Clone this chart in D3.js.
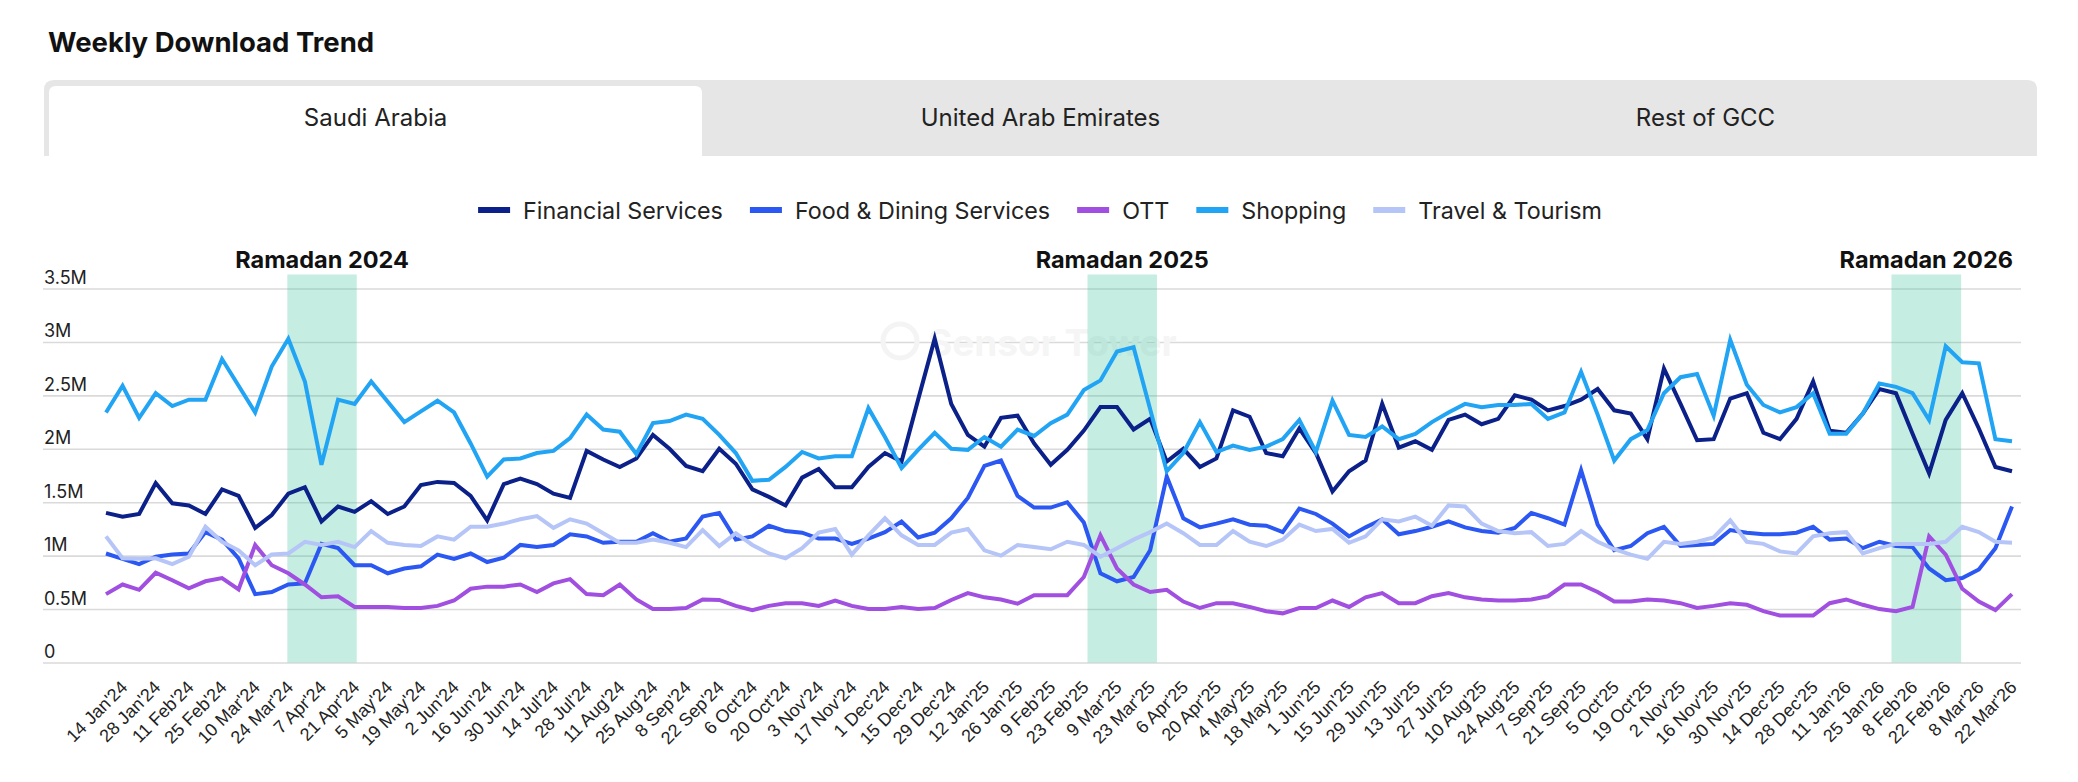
<!DOCTYPE html>
<html>
<head>
<meta charset="utf-8">
<script src="https://cdn.jsdelivr.net/npm/d3@7"></script>
<style>
body { margin: 0; background: #fff; }
svg { display: block; font-family: Inter, "Noto Sans", sans-serif; }
</style>
</head>
<body>
<svg></svg>
<script>
// =============================================== DATA =============================================
// one label every second week, first week = 14 Jan'24, last data week = 29 Mar'26
const xTickLabels = ["14 Jan'24","28 Jan'24","11 Feb'24","25 Feb'24","10 Mar'24","24 Mar'24","7 Apr'24","21 Apr'24",
  "5 May'24","19 May'24","2 Jun'24","16 Jun'24","30 Jun'24","14 Jul'24","28 Jul'24","11 Aug'24","25 Aug'24",
  "8 Sep'24","22 Sep'24","6 Oct'24","20 Oct'24","3 Nov'24","17 Nov'24","1 Dec'24","15 Dec'24","29 Dec'24",
  "12 Jan'25","26 Jan'25","9 Feb'25","23 Feb'25","9 Mar'25","23 Mar'25","6 Apr'25","20 Apr'25","4 May'25",
  "18 May'25","1 Jun'25","15 Jun'25","29 Jun'25","13 Jul'25","27 Jul'25","10 Aug'25","24 Aug'25","7 Sep'25",
  "21 Sep'25","5 Oct'25","19 Oct'25","2 Nov'25","16 Nov'25","30 Nov'25","14 Dec'25","28 Dec'25","11 Jan'26",
  "25 Jan'26","8 Feb'26","22 Feb'26","8 Mar'26","22 Mar'26"];

const yTickValues = [0, 0.5, 1, 1.5, 2, 2.5, 3, 3.5]; // millions
const yTickLabels = ["0", "0.5M", "1M", "1.5M", "2M", "2.5M", "3M", "3.5M"];

const tabs = ["Saudi Arabia", "United Arab Emirates", "Rest of GCC"];
const seriesNames = ["Financial Services", "Food & Dining Services", "OTT", "Shopping", "Travel & Tourism"];

// weekly downloads, millions
const financialServices = [1.40,1.365,1.39,1.68,1.49,1.47,1.39,1.62,1.56,1.26,1.38,1.58,1.64,1.32,1.46,1.41,1.51,1.39,1.46,1.66,
  1.69,1.68,1.56,1.33,1.67,1.72,1.67,1.58,1.54,1.98,1.90,1.83,1.91,2.13,2.00,1.84,1.79,2.00,1.86,1.62,
  1.55,1.47,1.73,1.81,1.64,1.64,1.83,1.96,1.88,2.46,3.03,2.42,2.13,2.02,2.29,2.31,2.05,1.85,1.99,2.17,
  2.39,2.39,2.18,2.28,1.88,2.00,1.83,1.91,2.36,2.30,1.96,1.93,2.19,1.96,1.60,1.79,1.89,2.42,2.01,2.07,
  1.99,2.27,2.32,2.23,2.28,2.50,2.46,2.36,2.40,2.46,2.56,2.36,2.33,2.09,2.75,2.42,2.08,2.09,2.47,2.52,
  2.15,2.09,2.28,2.63,2.17,2.15,2.33,2.56,2.52,2.14,1.77,2.27,2.52,2.19,1.83,1.79];
const foodDining = [1.02,0.97,0.92,0.99,1.01,1.02,1.22,1.15,0.975,0.64,0.66,0.73,0.74,1.11,1.07,0.91,0.91,0.835,0.88,0.90,
  1.01,0.97,1.02,0.94,0.98,1.10,1.08,1.10,1.20,1.18,1.12,1.13,1.13,1.21,1.13,1.16,1.365,1.40,1.15,1.18,
  1.28,1.23,1.215,1.16,1.16,1.11,1.16,1.22,1.32,1.17,1.215,1.35,1.54,1.84,1.89,1.56,1.45,1.45,1.50,1.31,
  0.835,0.76,0.80,1.05,1.74,1.35,1.265,1.30,1.34,1.29,1.28,1.22,1.44,1.39,1.30,1.18,1.265,1.34,1.20,1.23,
  1.27,1.32,1.265,1.23,1.215,1.26,1.40,1.35,1.29,1.80,1.29,1.05,1.09,1.21,1.27,1.09,1.10,1.11,1.24,1.215,
  1.20,1.20,1.215,1.27,1.15,1.16,1.07,1.13,1.09,1.08,0.88,0.77,0.79,0.87,1.07,1.46];
const ott = [0.64,0.73,0.68,0.84,0.77,0.695,0.76,0.79,0.685,1.10,0.91,0.835,0.73,0.61,0.62,0.52,0.52,0.52,0.51,0.51,
  0.53,0.58,0.69,0.71,0.71,0.73,0.66,0.74,0.78,0.64,0.63,0.73,0.59,0.50,0.50,0.51,0.59,0.585,0.53,0.49,
  0.53,0.555,0.555,0.53,0.58,0.53,0.50,0.50,0.52,0.50,0.51,0.585,0.65,0.61,0.59,0.55,0.63,0.63,0.63,0.80,
  1.19,0.88,0.73,0.66,0.68,0.57,0.51,0.555,0.555,0.52,0.48,0.46,0.51,0.51,0.58,0.52,0.61,0.65,0.555,0.555,
  0.62,0.65,0.61,0.59,0.58,0.58,0.59,0.62,0.73,0.73,0.66,0.57,0.57,0.59,0.58,0.555,0.51,0.53,0.555,0.54,
  0.48,0.44,0.44,0.44,0.555,0.59,0.54,0.50,0.48,0.52,1.18,1.01,0.69,0.57,0.49,0.64];
const shopping = [2.34,2.59,2.29,2.52,2.40,2.46,2.46,2.84,2.59,2.34,2.77,3.03,2.63,1.85,2.46,2.42,2.63,2.44,2.25,2.35,
  2.45,2.34,2.05,1.74,1.90,1.91,1.96,1.98,2.10,2.32,2.18,2.16,1.95,2.24,2.26,2.32,2.28,2.13,1.96,1.70,
  1.71,1.83,1.97,1.91,1.93,1.93,2.38,2.11,1.82,1.99,2.15,2.00,1.99,2.11,2.02,2.18,2.12,2.24,2.32,2.55,
  2.64,2.91,2.95,2.37,1.79,1.96,2.25,1.97,2.03,1.99,2.02,2.09,2.27,1.97,2.45,2.13,2.11,2.21,2.09,2.14,
  2.25,2.34,2.42,2.39,2.41,2.41,2.42,2.28,2.34,2.72,2.32,1.89,2.09,2.175,2.52,2.67,2.70,2.31,3.02,2.60,
  2.41,2.34,2.39,2.52,2.14,2.14,2.33,2.61,2.58,2.52,2.27,2.96,2.81,2.80,2.09,2.07];
const travelTourism = [1.18,0.975,0.97,0.975,0.92,0.99,1.27,1.13,1.05,0.91,1.01,1.02,1.13,1.10,1.13,1.08,1.23,1.12,1.10,1.09,
  1.18,1.15,1.27,1.27,1.30,1.34,1.37,1.26,1.34,1.30,1.21,1.12,1.12,1.15,1.12,1.08,1.24,1.09,1.21,1.10,
  1.02,0.975,1.07,1.215,1.25,1.01,1.19,1.35,1.19,1.10,1.10,1.215,1.25,1.05,1.00,1.10,1.08,1.06,1.13,1.10,
  0.99,1.07,1.15,1.22,1.30,1.21,1.10,1.10,1.23,1.13,1.09,1.15,1.29,1.23,1.25,1.12,1.18,1.34,1.32,1.365,
  1.28,1.47,1.46,1.30,1.23,1.21,1.22,1.09,1.11,1.23,1.13,1.06,1.01,0.97,1.13,1.11,1.13,1.17,1.33,1.13,
  1.11,1.04,1.02,1.18,1.21,1.22,1.02,1.07,1.11,1.11,1.11,1.13,1.27,1.22,1.13,1.12];

// ramadan periods, in week index units
const ramadanNames = ["Ramadan 2024", "Ramadan 2025", "Ramadan 2026"];
const ramadanFrom = [10.94, 59.22, 107.73];
const ramadanTo = [15.13, 63.41, 111.93];
// ===================================================================================================

function init() {
var width = 2078;
var height = 782;
var colors = ["#0b2088", "#2b57f2", "#a04fe0", "#22a4f4", "#b6c5f8"];
var allSeries = [financialServices, foodDining, ott, shopping, travelTourism];

var svg = d3.select("svg").attr("width", width).attr("height", height);

var xs = d3.scaleLinear().domain([0, financialServices.length - 1]).range([106, 2012]);
var ys = d3.scaleLinear().domain([0, 3.5]).range([662.5, 288.5]);

// ================== TITLE ==================
svg.append("text")
    .attr("x", 48).attr("y", 52)
    .attr("font-size", 27.5).attr("font-weight", 700)
    .attr("fill", "#111")
    .text("Weekly Download Trend");

// ================== TABS ==================
function topRounded(x, y, w, h, r) {
    return "M" + x + "," + (y + h) + "V" + (y + r) + "Q" + x + "," + y + " " + (x + r) + "," + y +
        "H" + (x + w - r) + "Q" + (x + w) + "," + y + " " + (x + w) + "," + (y + r) + "V" + (y + h) + "Z";
}
svg.append("path").attr("d", topRounded(44, 80, 1993, 76, 10)).attr("fill", "#e6e6e6");

var tabX = d3.scaleBand().domain(tabs).range([49, 2032]).paddingInner(0.018);
svg.append("path").attr("d", topRounded(tabX(tabs[0]), 86, tabX.bandwidth(), 70, 7)).attr("fill", "#fff");
svg.selectAll(".tab")
    .data(tabs)
    .enter()
    .append("text")
    .attr("class", "tab")
    .attr("x", d => tabX(d) + tabX.bandwidth() / 2)
    .attr("y", 126)
    .attr("text-anchor", "middle")
    .attr("font-size", 24)
    .attr("fill", "#222")
    .text(d => d);

// ================== LEGEND ==================
var legend = svg.append("g");
var lx = 0;
seriesNames.forEach(function(name, i) {
    legend.append("rect").attr("x", lx).attr("y", 207).attr("width", 32).attr("height", 6).attr("fill", colors[i]);
    var t = legend.append("text").attr("x", lx + 45).attr("y", 219)
        .attr("font-size", 23.3).attr("fill", "#222").text(name);
    lx += 45 + t.node().getComputedTextLength() + 27;
});
lx -= 27;
legend.attr("transform", "translate(" + (1040 - lx / 2) + ",0)");

// ================== GRID + Y LABELS ==================
var grid = svg.append("g").attr("transform", "translate(43,0)")
    .call(d3.axisRight(ys).tickValues(yTickValues).tickSize(1978).tickFormat((d, i) => yTickLabels[i]));
grid.select(".domain").remove();
grid.selectAll("line").attr("stroke", "#dadada").attr("stroke-width", 1.6);
grid.selectAll("text")
    .attr("x", 1).attr("dy", -5)
    .attr("text-anchor", "start")
    .attr("font-family", "Inter, sans-serif")
    .attr("font-size", 18).attr("fill", "#222");

// faint watermark
svg.append("circle").attr("cx", 900).attr("cy", 341).attr("r", 17)
    .attr("fill", "none").attr("stroke", "#f4f4f4").attr("stroke-width", 5);
svg.append("text").attr("x", 928).attr("y", 356)
    .attr("font-size", 37).attr("font-weight", 700).attr("fill", "#f5f5f5").text("Sensor Tower");

// ================== RAMADAN BANDS ==================
svg.selectAll(".ramadan")
    .data(ramadanNames)
    .enter()
    .append("rect")
    .attr("class", "ramadan")
    .attr("x", (d, i) => xs(ramadanFrom[i]))
    .attr("width", (d, i) => xs(ramadanTo[i]) - xs(ramadanFrom[i]))
    .attr("y", ys(3.5) - 14)
    .attr("height", ys(0) - ys(3.5) + 14)
    .attr("fill", "rgb(64,196,160)")
    .attr("fill-opacity", 0.3);

svg.selectAll(".ramadan-label")
    .data(ramadanNames)
    .enter()
    .append("text")
    .attr("class", "ramadan-label")
    .attr("x", (d, i) => (xs(ramadanFrom[i]) + xs(ramadanTo[i])) / 2)
    .attr("y", ys(3.5) - 21)
    .attr("text-anchor", "middle")
    .attr("font-size", 23.5).attr("font-weight", 700).attr("fill", "#111")
    .text(d => d);

// ================== LINES ==================
var line = d3.line()
    .x((d, i) => xs(i))
    .y(d => ys(d));

svg.append("g")
    .selectAll("path")
    .data(allSeries)
    .enter()
    .append("path")
    .attr("fill", "none")
    .attr("stroke", (d, i) => colors[i])
    .attr("stroke-width", 4)
    .attr("d", line);

// ================== X AXIS ==================
var xAxis = svg.append("g")
    .attr("transform", "translate(0," + ys(0) + ")")
    .call(d3.axisBottom(xs).tickValues(d3.range(0, financialServices.length - 1, 2)).tickSize(0)
        .tickFormat(d => xTickLabels[d / 2]));
xAxis.select(".domain").remove();
xAxis.selectAll("text")
    .attr("x", 0).attr("y", 0).attr("dy", 0)
    .attr("transform", "translate(22,26) rotate(-45)")
    .attr("text-anchor", "end")
    .attr("font-family", "'Liberation Sans', Arial, sans-serif")
    .attr("font-size", 18).attr("fill", "#222");
}

init();
</script>
</body>
</html>
